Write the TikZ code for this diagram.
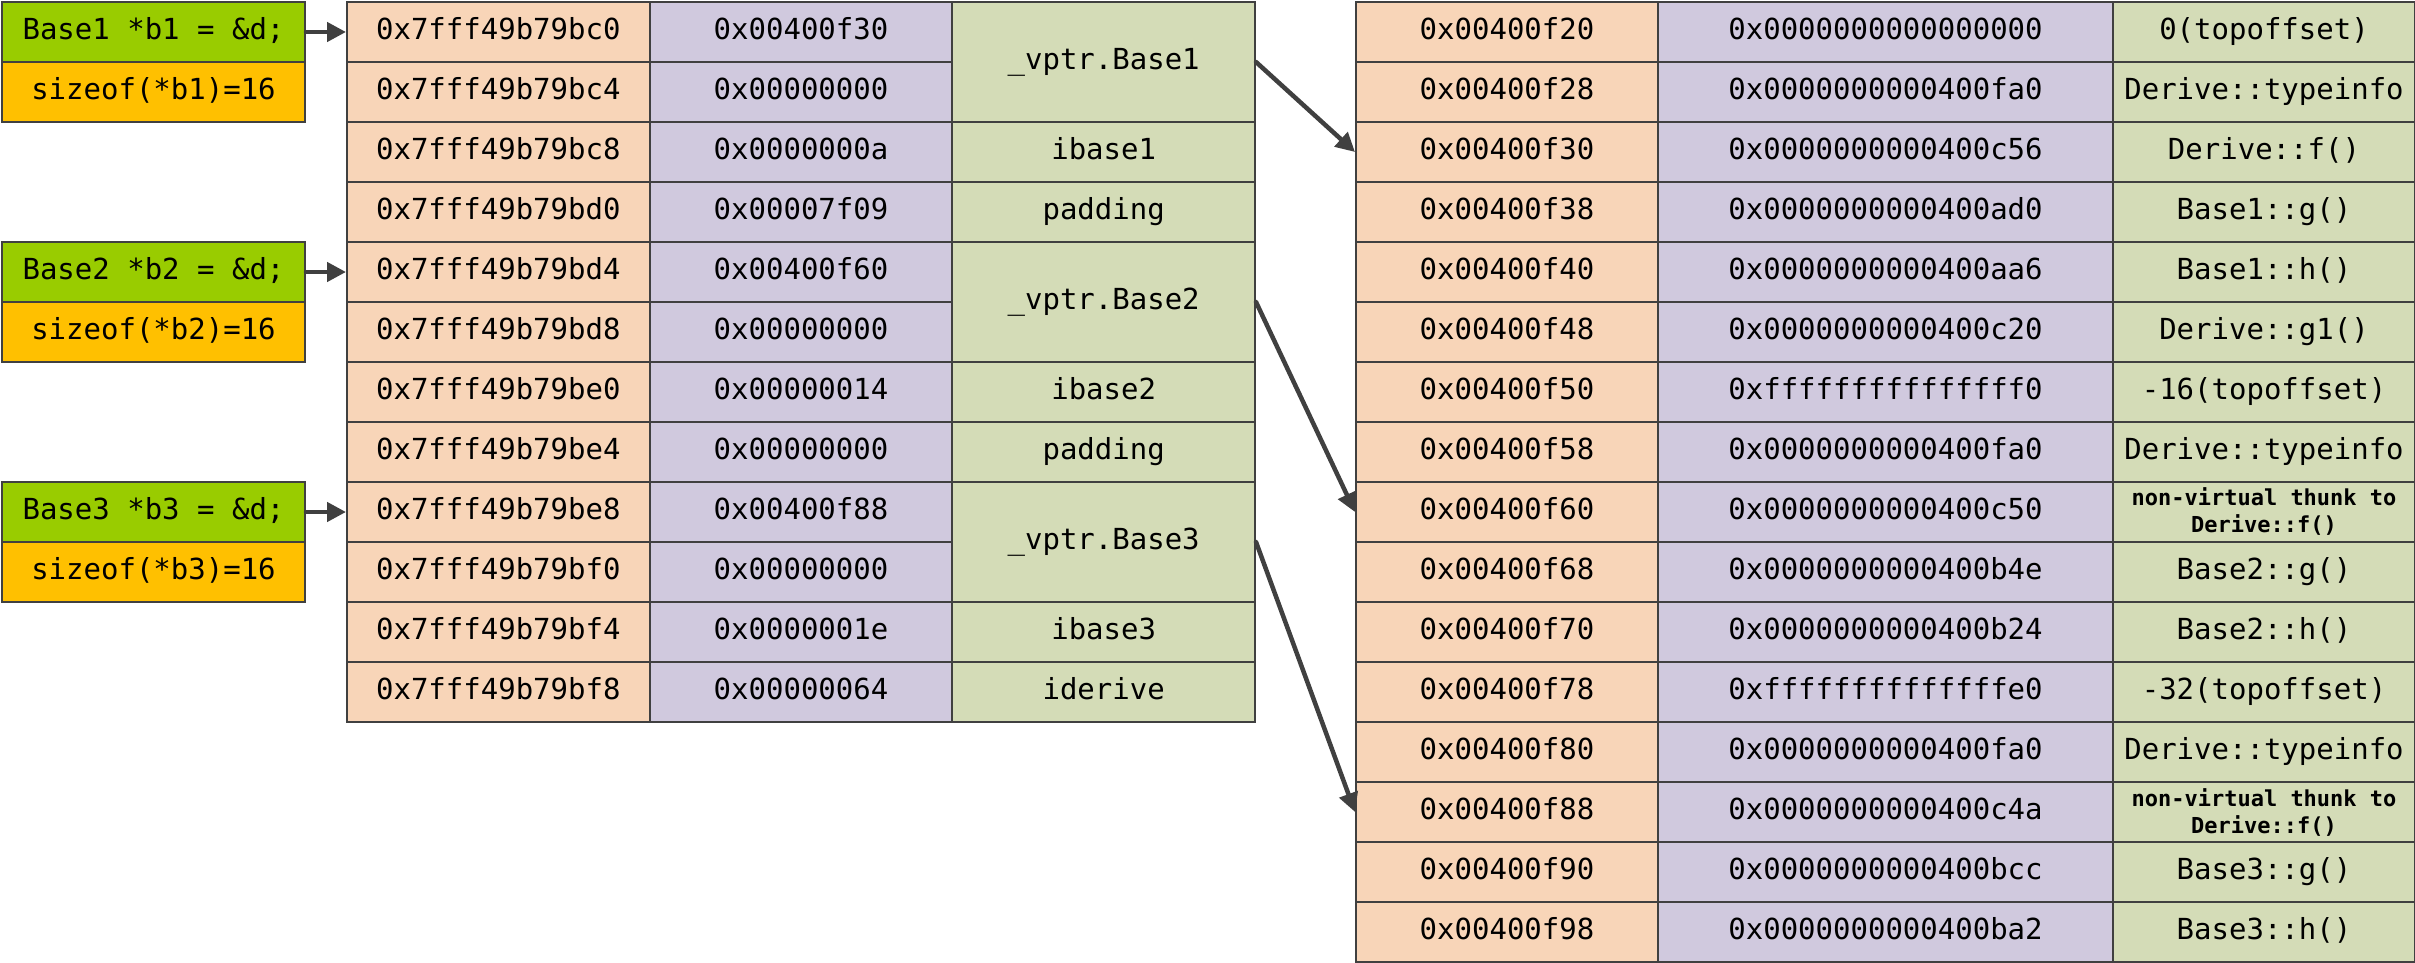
\documentclass[tikz,border=0pt]{standalone}
\usepackage{fontspec}
\setmonofont{DejaVu Sans Mono}
\usetikzlibrary{arrows.meta}
\definecolor{peach}{HTML}{F8D5B8}
\definecolor{lav}{HTML}{D0C9DE}
\definecolor{sage}{HTML}{D4DCB7}
\definecolor{lgreen}{HTML}{99CC00}
\definecolor{lorange}{HTML}{FFC000}
\definecolor{bordercol}{HTML}{404040}
\definecolor{arrowcol}{HTML}{404040}
\begin{document}
\begin{tikzpicture}[x=1pt,y=-1pt,
  basecell/.style={draw=bordercol,line width=2pt,inner sep=0pt,anchor=north west,
    minimum height=60pt,align=center},
  cell/.style={basecell,text height=21pt,text depth=6pt,font=\fontsize{29}{34}\selectfont\ttfamily},
  thunk/.style={basecell,font=\fontsize{22}{27}\selectfont\ttfamily\bfseries},
  arr/.style={draw=arrowcol,line width=4.5pt,line cap=round,-{Triangle[length=19pt,width=19pt]}}]
\useasboundingbox (0,0) rectangle (2415,963);

% left pointer boxes
\node[cell,fill=lgreen,minimum width=303pt] (b1) at (1,1) {Base1 *b1 = \&d;};
\node[cell,fill=lorange,minimum width=303pt] (s1) at (1,61) {sizeof(*b1)=16};
\node[cell,fill=lgreen,minimum width=303pt] (b2) at (1,241) {Base2 *b2 = \&d;};
\node[cell,fill=lorange,minimum width=303pt] (s2) at (1,301) {sizeof(*b2)=16};
\node[cell,fill=lgreen,minimum width=303pt] (b3) at (1,481) {Base3 *b3 = \&d;};
\node[cell,fill=lorange,minimum width=303pt] (s3) at (1,541) {sizeof(*b3)=16};

% middle object layout
\foreach \a/\v [count=\i from 0] in {bc0/0x00400f30,bc4/0x00000000,bc8/0x0000000a,bd0/0x00007f09,
  bd4/0x00400f60,bd8/0x00000000,be0/0x00000014,be4/0x00000000,
  be8/0x00400f88,bf0/0x00000000,bf4/0x0000001e,bf8/0x00000064}{
  \node[cell,fill=peach,minimum width=302.67pt] (m-\i-1) at (346,{1+60*\i}) {0x7fff49b79\a};
  \node[cell,fill=lav,minimum width=302.67pt] (m-\i-2) at (648.67,{1+60*\i}) {\v};
}
\node[cell,fill=sage,minimum width=302.67pt,minimum height=120pt] (vp1) at (951.33,1) {\_vptr.Base1};
\node[cell,fill=sage,minimum width=302.67pt] (ib1) at (951.33,121) {ibase1};
\node[cell,fill=sage,minimum width=302.67pt] (pd1) at (951.33,181) {padding};
\node[cell,fill=sage,minimum width=302.67pt,minimum height=120pt] (vp2) at (951.33,241) {\_vptr.Base2};
\node[cell,fill=sage,minimum width=302.67pt] (ib2) at (951.33,361) {ibase2};
\node[cell,fill=sage,minimum width=302.67pt] (pd2) at (951.33,421) {padding};
\node[cell,fill=sage,minimum width=302.67pt,minimum height=120pt] (vp3) at (951.33,481) {\_vptr.Base3};
\node[cell,fill=sage,minimum width=302.67pt] (ib3) at (951.33,601) {ibase3};
\node[cell,fill=sage,minimum width=302.67pt] (idr) at (951.33,661) {iderive};

% right vtable
\foreach \a/\v [count=\i from 0] in {20/0x0000000000000000,28/0x0000000000400fa0,30/0x0000000000400c56,
  38/0x0000000000400ad0,40/0x0000000000400aa6,48/0x0000000000400c20,50/0xfffffffffffffff0,
  58/0x0000000000400fa0,60/0x0000000000400c50,68/0x0000000000400b4e,70/0x0000000000400b24,
  78/0xffffffffffffffe0,80/0x0000000000400fa0,88/0x0000000000400c4a,90/0x0000000000400bcc,
  98/0x0000000000400ba2}{
  \node[cell,fill=peach,minimum width=302pt] (r-\i-1) at (1355,{1+60*\i}) {0x00400f\a};
  \node[cell,fill=lav,minimum width=455pt] (r-\i-2) at (1657,{1+60*\i}) {\v};
}
\foreach \t/\i in {0(topoffset)/0,Derive::typeinfo/1,Derive::f()/2,Base1::g()/3,Base1::h()/4,
  Derive::g1()/5,-16(topoffset)/6,Derive::typeinfo/7,Base2::g()/9,Base2::h()/10,
  -32(topoffset)/11,Derive::typeinfo/12,Base3::g()/14,Base3::h()/15}{
  \node[cell,fill=sage,minimum width=302pt] (r-\i-3) at (2112,{1+60*\i}) {\t};
}
\node[thunk,fill=sage,minimum width=302pt] (r-8-3) at (2112,481) {non-virtual thunk to\\Derive::f()};
\node[thunk,fill=sage,minimum width=302pt] (r-13-3) at (2112,781) {non-virtual thunk to\\Derive::f()};

% arrows
\draw[arr] (b1.east) -- (m-0-1.west);
\draw[arr] (b2.east) -- (m-4-1.west);
\draw[arr] (b3.east) -- (m-8-1.west);
\draw[arr] (vp1.east) -- (r-2-1.west);
\draw[arr] (vp2.east) -- (r-8-1.west);
\draw[arr] (vp3.east) -- (r-13-1.west);
\end{tikzpicture}
\end{document}
